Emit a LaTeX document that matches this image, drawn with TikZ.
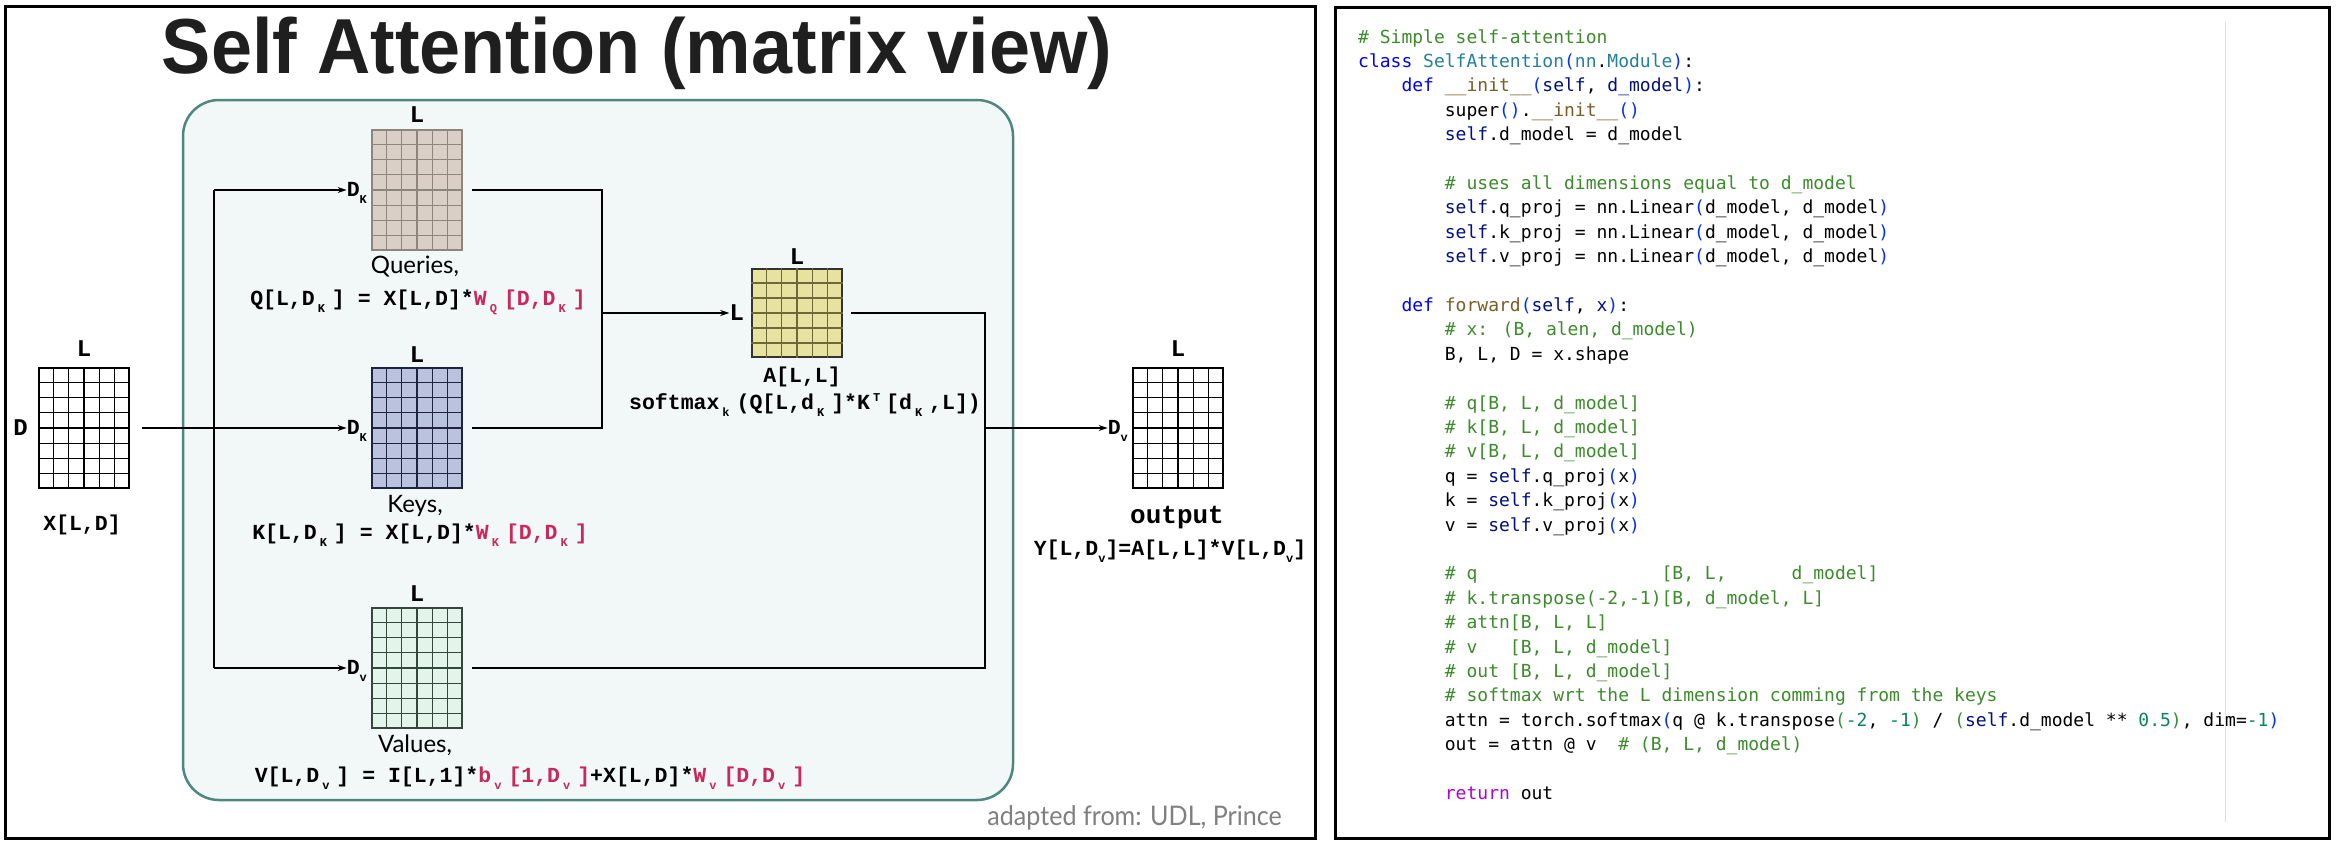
\documentclass[tikz,border=0pt]{standalone}
\usepackage{fontspec}
\usetikzlibrary{calc,positioning,arrows.meta}

\newfontfamily\titlefont{Liberation Sans}
\newfontfamily\cour{Liberation Mono}
\newfontfamily\codefont{DejaVu Sans Mono}
\newfontfamily\labfont{Lato}

\definecolor{qfill}{HTML}{D9CFC6}\definecolor{qline}{HTML}{8E857C}
\definecolor{kfill}{HTML}{BBC2DE}\definecolor{kline}{HTML}{1E2440}
\definecolor{afill}{HTML}{E8E2A1}\definecolor{aline}{HTML}{6E6838}
\definecolor{vfill}{HTML}{E3F4EA}\definecolor{vline}{HTML}{34473C}
\definecolor{boxfill}{HTML}{F2F7F7}\definecolor{boxline}{HTML}{4E877F}
\definecolor{pink}{HTML}{C8285A}
\definecolor{cmt}{HTML}{3C8C2C}\definecolor{kwd}{HTML}{0000FF}
\definecolor{cls}{HTML}{267F99}\definecolor{fnc}{HTML}{795E26}
\definecolor{var}{HTML}{001080}\definecolor{num}{HTML}{098658}
\definecolor{bra}{HTML}{0431FA}\definecolor{brb}{HTML}{319331}
\definecolor{ret}{HTML}{AF00DB}

\newcommand\pk[1]{\textcolor{pink}{#1}}
\newcommand\lo[1]{\raisebox{-7pt}{\fontsize{12}{13}\selectfont #1}}
\newcommand\los[1]{\hspace{3pt}\lo{#1}\hspace{7pt}}
\newcommand\his[1]{\hspace{3pt}\raisebox{8pt}{\fontsize{12}{13}\selectfont #1}\hspace{6pt}}
\newcommand\ccmt[1]{\textcolor{cmt}{#1}}
\newcommand\ckw[1]{\textcolor{kwd}{#1}}
\newcommand\ccls[1]{\textcolor{cls}{#1}}
\newcommand\cfn[1]{\textcolor{fnc}{#1}}
\newcommand\cvar[1]{\textcolor{var}{#1}}
\newcommand\cnum[1]{\textcolor{num}{#1}}
\newcommand\cbra[1]{\textcolor{bra}{#1}}
\newcommand\cbrb[1]{\textcolor{brb}{#1}}
\newcommand\cret[1]{\textcolor{ret}{#1}}
\newcommand\sps[1]{\hspace*{#1\fontcharwd\font`\x}}
\def\row#1{43+24.4*(#1-1)}
\def\matgrid[#1](#2)(#3:#4){%
  \foreach \gi in {1,...,#3} \draw[#1] ($(#2.north west)!\gi/(#3+1)!(#2.north east)$) -- ($(#2.south west)!\gi/(#3+1)!(#2.south east)$);
  \foreach \gj in {1,...,#4} \draw[#1] ($(#2.north west)!\gj/(#4+1)!(#2.south west)$) -- ($(#2.north east)!\gj/(#4+1)!(#2.south east)$);
}

\begin{document}
\begin{tikzpicture}[x=1pt,y=-1pt,
    mat/.style={draw, line width=1.8pt, minimum width=90pt, minimum height=120pt, inner sep=0pt},
    lab/.style={inner sep=0pt, font=\cour\bfseries\fontsize{21.5}{24}\selectfont},
    lbig/.style={inner sep=0pt, font=\cour\bfseries\fontsize{24}{26}\selectfont},
    sans/.style={inner sep=0pt, font=\labfont\fontsize{24}{26}\selectfont},
    code/.style={inner sep=0pt, anchor=base west, font=\codefont\fontsize{18}{24}\selectfont},
    wire/.style={line width=2pt},
    arr/.style={line width=2pt, -{Stealth[length=9pt,width=6pt]}}]
			%%%%% START %%%%%
			\useasboundingbox[fill=white] (0,0) rectangle (2336,844);
			
			\draw[line width=3pt] (5,6) rectangle (1315,838);
			\draw[line width=3pt] (1335,7) rectangle (2329,838);
			
			\node[inner sep=0pt, anchor=base, font=\titlefont\bfseries\fontsize{78}{80}\selectfont, text=black!88] (title) at (637,73) {\scalebox{0.945}[1]{Self Attention (matrix view)}};
			
			\draw[fill=boxfill, draw=boxline, line width=2.5pt, rounded corners=36pt] (183,100) rectangle (1013,800);
			
			%%%%% MATRICES %%%%%
			\node[mat, fill=white] (X) at (84,428) {};
			\matgrid[line width=1.4pt](X)(5:7)
			\node[mat, fill=qfill, draw=qline] (Q) at (417,190) {};
			\matgrid[qline, line width=1.4pt](Q)(5:7)
			\node[mat, fill=kfill, draw=kline] (K) at (417,428) {};
			\matgrid[kline, line width=1.4pt](K)(5:7)
			\node[mat, fill=vfill, draw=vline] (V) at (417,668) {};
			\matgrid[vline, line width=1.4pt](V)(5:7)
			\node[mat, fill=afill, draw=black!80, minimum height=88pt] (A) at (797,313) {};
			\matgrid[aline, line width=1.4pt](A)(5:5)
			\node[mat, fill=white] (Y) at (1178,428) {};
			\matgrid[line width=1.4pt](Y)(5:7)
			
			%%%%% SIZES %%%%%
			\node[lbig, above=10pt of X] (xL) {L};
			\node[lbig, anchor=east] (xD) at ([xshift=-10pt]X.west) {D};
			\node[lbig, above=6pt of Q] (qL) {L};
			\node[lbig, above=4pt of K] (kL) {L};
			\node[lbig, above=5pt of V] (vL) {L};
			\node[lbig, above=3pt of A] (aL) {L};
			\node[lbig, above=10pt of Y] (yL) {L};
			\node[lbig, anchor=east] (adim) at ([xshift=-7pt]A.west) {L};
			\node[lab, anchor=base east] (qdim) at ([xshift=-4pt,yshift=-6pt]Q.west) {D\lo{K}};
			\node[lab, anchor=base east] (kdim) at ([xshift=-4pt,yshift=-6pt]K.west) {D\lo{K}};
			\node[lab, anchor=base east] (vdim) at ([xshift=-4pt,yshift=-6pt]V.west) {D\lo{v}};
			\node[lab, anchor=base east] (ydim) at ([xshift=-4pt,yshift=-6pt]Y.west) {D\lo{v}};
			
			%%%%% TEXTS %%%%%
			\node[lab] (xname) at (82,525) {X[L,D]};
			\node[sans] (qname) at (415,267) {Queries,};
			\node[lab] (qeq) at (418,302) {Q[L,D\los{K}] = X[L,D]*\pk{W\los{Q}[D,D\los{K}]}};
			\node[sans] (kname) at (415,506) {Keys,};
			\node[lab] (keq) at (420,535) {K[L,D\los{K}] = X[L,D]*\pk{W\los{K}[D,D\los{K}]}};
			\node[sans] (vname) at (415,745) {Values,};
			\node[lab] (veq) at (530,778) {V[L,D\los{v}] = I[L,1]*\pk{b\los{v}[1,D\los{v}]}+X[L,D]*\pk{W\los{v}[D,D\los{v}]}};
			\node[lab] (aname) at (802,377) {A[L,L]};
			\node[lab] (aeq) at (805,405) {softmax\los{k}(Q[L,d\los{K}]*K\his{T}[d\los{K},L])};
			\node[inner sep=0pt, font=\cour\bfseries\fontsize{26}{28}\selectfont] (yname) at (1177,518) {output};
			\node[lab] (yeq) at (1170,551) {Y[L,D\lo{v}]=A[L,L]*V[L,D\lo{v}]};
			\node[inner sep=0pt, anchor=east, font=\labfont\fontsize{27}{29}\selectfont, text=black!50] (credit) at (1282,818) {\scalebox{0.93}[1]{adapted from: UDL, Prince}};
			
			%%%%% WIRES %%%%%
			\coordinate (split) at (214,428);
			\coordinate (merge) at (602,313);
			\coordinate (join) at (985,428);
			\draw[arr, shorten <=12pt] (X.east) -- (kdim.west |- K);
			\draw[wire] (split |- Q) -- (split |- V);
			\draw[arr] (split |- Q) -- (qdim.west |- Q);
			\draw[arr] (split |- V) -- (vdim.west |- V);
			\draw[wire, shorten <=9pt] (Q.east) -| (merge);
			\draw[wire, shorten <=9pt] (K.east) -| (merge);
			\draw[arr] (merge) -- (adim.west |- merge);
			\draw[wire, shorten <=8pt] (A.east) -| (join |- V);
			\draw[wire, shorten <=9pt] (V.east) -| (join);
			\draw[arr] (join) -- (ydim.west |- Y);
			
			%%%%% CODE %%%%%
			\draw[black!12, line width=1pt] (2225,22) -- (2225,822);
			\node[code] (c1) at (1358,{\row{1}}) {\ccmt{\# Simple self-attention}};
			\node[code] (c2) at (1358,{\row{2}}) {\ckw{class} \ccls{SelfAttention}\cbra{(}\ccls{nn}.\ccls{Module}\cbra{)}:};
			\node[code] (c3) at (1358,{\row{3}}) {\sps{4}\ckw{def} \cfn{\_\_init\_\_}\cbra{(}\cvar{self}, \cvar{d\_model}\cbra{)}:};
			\node[code] (c4) at (1358,{\row{4}}) {\sps{8}super\cbra{()}.\cfn{\_\_init\_\_}\cbra{()}};
			\node[code] (c5) at (1358,{\row{5}}) {\sps{8}\cvar{self}.d\_model = d\_model};
			\node[code] (c7) at (1358,{\row{7}}) {\sps{8}\ccmt{\# uses all dimensions equal to d\_model}};
			\node[code] (c8) at (1358,{\row{8}}) {\sps{8}\cvar{self}.q\_proj = nn.Linear\cbra{(}d\_model, d\_model\cbra{)}};
			\node[code] (c9) at (1358,{\row{9}}) {\sps{8}\cvar{self}.k\_proj = nn.Linear\cbra{(}d\_model, d\_model\cbra{)}};
			\node[code] (c10) at (1358,{\row{10}}) {\sps{8}\cvar{self}.v\_proj = nn.Linear\cbra{(}d\_model, d\_model\cbra{)}};
			\node[code] (c12) at (1358,{\row{12}}) {\sps{4}\ckw{def} \cfn{forward}\cbra{(}\cvar{self}, \cvar{x}\cbra{)}:};
			\node[code] (c13) at (1358,{\row{13}}) {\sps{8}\ccmt{\# x: (B, alen, d\_model)}};
			\node[code] (c14) at (1358,{\row{14}}) {\sps{8}B, L, D = x.shape};
			\node[code] (c16) at (1358,{\row{16}}) {\sps{8}\ccmt{\# q[B, L, d\_model]}};
			\node[code] (c17) at (1358,{\row{17}}) {\sps{8}\ccmt{\# k[B, L, d\_model]}};
			\node[code] (c18) at (1358,{\row{18}}) {\sps{8}\ccmt{\# v[B, L, d\_model]}};
			\node[code] (c19) at (1358,{\row{19}}) {\sps{8}q = \cvar{self}.q\_proj\cbra{(}x\cbra{)}};
			\node[code] (c20) at (1358,{\row{20}}) {\sps{8}k = \cvar{self}.k\_proj\cbra{(}x\cbra{)}};
			\node[code] (c21) at (1358,{\row{21}}) {\sps{8}v = \cvar{self}.v\_proj\cbra{(}x\cbra{)}};
			\node[code] (c23) at (1358,{\row{23}}) {\sps{8}\ccmt{\# q\sps{17}[B, L,\sps{6}d\_model]}};
			\node[code] (c24) at (1358,{\row{24}}) {\sps{8}\ccmt{\# k.transpose(-2,-1)[B, d\_model, L]}};
			\node[code] (c25) at (1358,{\row{25}}) {\sps{8}\ccmt{\# attn[B, L, L]}};
			\node[code] (c26) at (1358,{\row{26}}) {\sps{8}\ccmt{\# v\sps{3}[B, L, d\_model]}};
			\node[code] (c27) at (1358,{\row{27}}) {\sps{8}\ccmt{\# out [B, L, d\_model]}};
			\node[code] (c28) at (1358,{\row{28}}) {\sps{8}\ccmt{\# softmax wrt the L dimension comming from the keys}};
			\node[code] (c29) at (1358,{\row{29}}) {\sps{8}attn = torch.softmax\cbra{(}q @ k.transpose\cbrb{(}\cnum{-2}, \cnum{-1}\cbrb{)} / \cbrb{(}\cvar{self}.d\_model ** \cnum{0.5}\cbrb{)}, dim=\cnum{-1}\cbra{)}};
			\node[code] (c30) at (1358,{\row{30}}) {\sps{8}out = attn @ v\sps{2}\ccmt{\# (B, L, d\_model)}};
			\node[code] (c32) at (1358,{\row{32}}) {\sps{8}\cret{return} out};
			
			%%%%% END %%%%%
\end{tikzpicture}
\end{document}
